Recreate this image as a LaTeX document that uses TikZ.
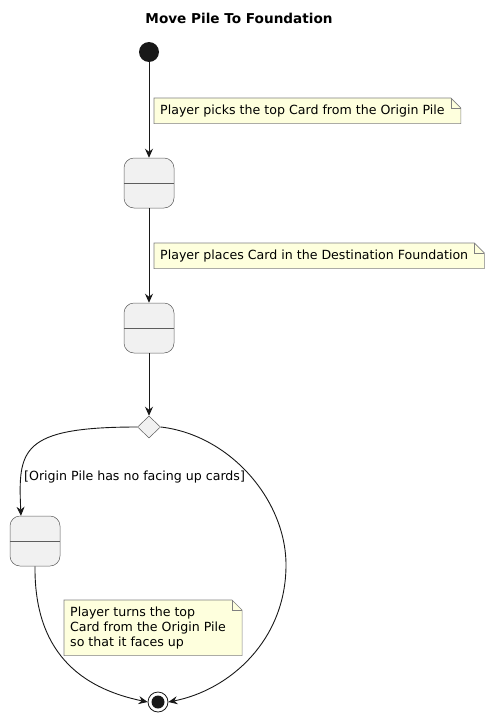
\documentclass[tikz,border=0pt]{standalone}
\usepackage{fontspec}
\setmainfont{DejaVu Sans}
\usetikzlibrary{arrows.meta,shapes.geometric,backgrounds}
\definecolor{notefill}{HTML}{FEFFDD}
\definecolor{stfill}{HTML}{F1F1F1}
\definecolor{ink}{HTML}{181818}

\begin{document}
\begin{tikzpicture}[
  x=1pt, y=-1pt,
  > = {Stealth[length=9pt,width=8pt,inset=3pt]},
  line/.style = {draw=ink, line width=0.9pt},
  state/.style = {draw=ink!70, fill=stfill, rounded corners=10pt, minimum width=50pt, minimum height=50pt, inner sep=0pt, line width=0.5pt},
  choice/.style = {draw=ink!70, fill=stfill, diamond, minimum width=23pt, minimum height=22pt, inner sep=0pt, line width=0.5pt},
  note/.style = {anchor=north west, align=left, inner xsep=6pt, inner ysep=6.5pt, font=\fontsize{12.6}{15}\selectfont},
  noteline/.style = {draw=ink!55, fill=notefill, line width=0.6pt},
  guard/.style = {font=\fontsize{12.6}{15}\selectfont, anchor=west, inner sep=0pt}
  ]
  \useasboundingbox (0,0) rectangle (491,715);

  \node[font=\fontsize{13.6}{16}\selectfont\bfseries] (title) at (239,18) {Move Pile To Foundation};

  % states
  \node[circle, fill=ink, minimum size=20pt, inner sep=0pt] (start) at (149,52) {};
  \node[state] (pick) at (149,183) {};
  \node[state] (place) at (149,328) {};
  \node[choice] (check) at (149,427) {};
  \node[state] (turn) at (35,541) {};
  \node[circle, draw=ink, line width=0.8pt, minimum size=20pt, inner sep=0pt] (stop) at (158,702) {};
  \fill[ink] (stop) circle (6.5pt);

  \foreach \s in {pick,place,turn}
    \draw[ink!70, line width=0.5pt] (\s.west) -- (\s.east);

  % notes
  \node[note] (pickNote) at (154,98) {Player picks the top Card from the Origin Pile};
  \node[note] (placeNote) at (154,243) {Player places Card in the Destination Foundation};
  \node[note] (turnNote) at (64,600) {Player turns the top\\Card from the Origin Pile\\so that it faces up};

  \begin{scope}[on background layer]
    \foreach \n in {pickNote,placeNote,turnNote} {
      \draw[noteline] (\n.south west) -- (\n.north west) -- (\n.north east)
        -- ([xshift=10pt,yshift=-10pt]\n.north east) -- ([xshift=10pt]\n.south east) -- cycle;
      \draw[noteline, fill=none] (\n.north east) -- ([yshift=-10pt]\n.north east)
        -- ([xshift=10pt,yshift=-10pt]\n.north east);
    }
  \end{scope}

  % transitions
  \draw[line,->] (start) -- (pick);
  \draw[line,->] (pick) -- (place);
  \draw[line,->] (place) -- (check);
  \draw[line,->] (check.west) .. controls (20,427) and (18,450) .. ([xshift=-14pt]turn.north);
  \node[guard] (noUp) at (24,477) {[Origin Pile has no facing up cards]};
  \draw[line,->] (turn.south) .. controls (34,660) and (90,690) .. (stop.west);
  \draw[line,->] (check.east) .. controls (230,435) and (286,500) .. (286,565)
    .. controls (286,640) and (230,690) .. (stop.east);

\end{tikzpicture}
\end{document}
